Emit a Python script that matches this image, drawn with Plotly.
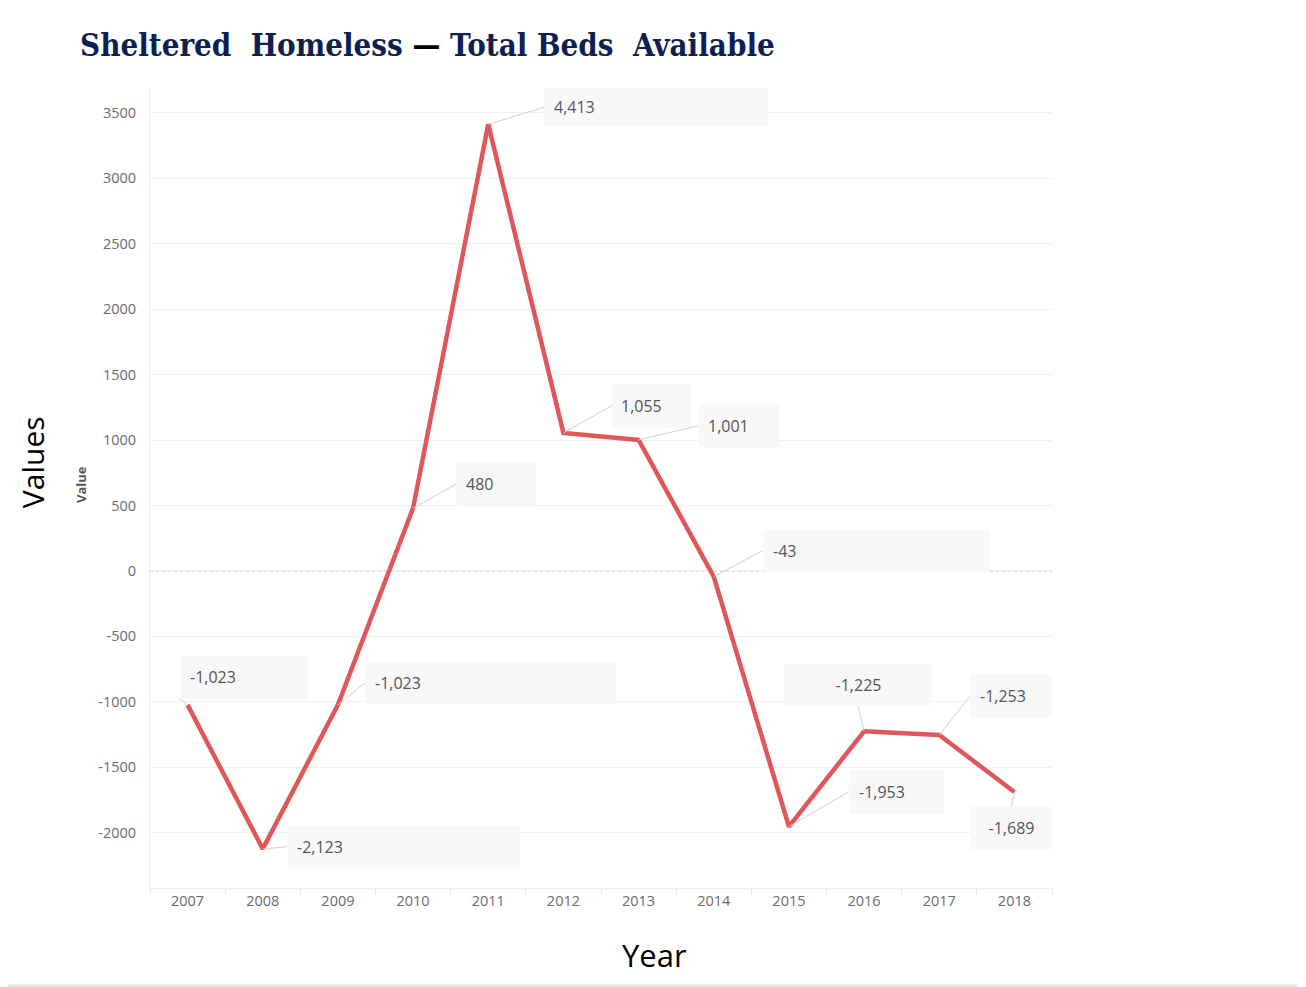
import plotly.graph_objects as go

years = [2007, 2008, 2009, 2010, 2011, 2012, 2013, 2014, 2015, 2016, 2017, 2018]
values = [-1023, -2123, -1023, 480, 3413, 1055, 1001, -43, -1953, -1225, -1253, -1689]
labels = ["-1,023", "-2,123", "-1,023", "480", "4,413", "1,055", "1,001", "-43",
          "-1,953", "-1,225", "-1,253", "-1,689"]
ytick_vals = [3500, 3000, 2500, 2000, 1500, 1000, 500, 0, -500, -1000, -1500, -2000]
ytick_text = ["3500", "3000", "2500", "2000", "1500", "1000", "500", "0",
              "-500", "-1000", "-1500", "-2000"]
xtick_text = [str(y) for y in years]

# label box placement: (ax, ay, xanchor, yanchor, box width, box height, align)
label_style = [
    (-8, -6, "left", "bottom", 127, 42, "left"),
    (24, -2, "left", "middle", 231, 41, "left"),
    (27, -22, "left", "middle", 249, 41, "left"),
    (43, -24, "left", "middle", 79, 42, "left"),
    (56, -17, "left", "middle", 223, 38, "left"),
    (48, -27, "left", "middle", 79, 42, "left"),
    (59, -14, "left", "middle", 80, 42, "left"),
    (49, -26, "left", "middle", 225, 42, "left"),
    (60, -35, "left", "middle", 93, 42, "left"),
    (-6, -25, "center", "bottom", 147, 41, "center"),
    (31, -39, "left", "middle", 81, 42, "left"),
    (-3, 14, "center", "top", 81, 42, "center"),
]

W, H = 1306, 987
L, T = 142, 78
PW, PH = 902, 802

fig = go.Figure()
fig.add_trace(go.Scatter(
    x=years, y=values, mode="lines",
    line=dict(color="#e15759", width=4.5),
    hoverinfo="skip", showlegend=False,
))

annotations = []
pad = 9
for yr, v, txt, st in zip(years, values, labels, label_style):
    ax, ay, xa, ya, bw, bh, al = st
    annotations.append(dict(
        x=yr, y=v, xref="x", yref="y", text=txt,
        showarrow=True, arrowhead=0, arrowwidth=1, arrowcolor="#d0d0d0",
        ax=ax, ay=ay, xanchor=xa, yanchor=ya,
        width=bw - 2 * pad, height=bh - 2 * pad, borderpad=pad, align=al,
        bgcolor="#f8f8f8", font=dict(family="Open Sans", size=16, color="#555555"),
    ))

# title
annotations.append(dict(
    x=0, y=1, xref="paper", yref="paper", xshift=-72, yshift=41,
    xanchor="left", yanchor="middle", showarrow=False,
    text=("<b><span style='color:#0f1f52'>Sheltered  Homeless</span> "
          "<span style='color:#000000'>—</span> "
          "<span style='color:#0f1f52'>Total Beds  Available</span></b>"),
    font=dict(family="DejaVu Serif Condensed", size=31, color="#0f1f52"),
))
# small inner axis title
annotations.append(dict(
    x=0, y=0.5, xref="paper", yref="paper", xshift=-69, yshift=2,
    xanchor="center", yanchor="middle", showarrow=False, textangle=-90,
    text="<b>Value</b>", font=dict(family="Open Sans", size=13, color="#555555"),
))
# outer axis titles
annotations.append(dict(
    x=0, y=0.531, xref="paper", yref="paper", xshift=-118,
    xanchor="center", yanchor="middle", showarrow=False, textangle=-90,
    text="Values", font=dict(family="Open Sans", size=30, color="#000000"),
))
annotations.append(dict(
    x=0.5588, y=0, xref="paper", yref="paper", yshift=-67,
    xanchor="center", yanchor="middle", showarrow=False,
    text="Year", font=dict(family="Open Sans", size=31, color="#000000"),
))

shapes = [
    # dotted zero reference line
    dict(type="line", xref="paper", yref="y", x0=0, x1=1, y0=0, y1=0,
         line=dict(color="#b0b0b0", width=1, dash="dot"), layer="below"),
    # slide frame line at the bottom
    dict(type="line", xref="paper", yref="paper",
         x0=-150 / PW, x1=(W - 150) / PW, y0=-97.5 / PH, y1=-97.5 / PH,
         line=dict(color="#e6e0dc", width=2)),
]

fig.update_layout(
    width=W, height=H,
    margin=dict(l=L, r=W - L - PW, t=T, b=H - T - PH, autoexpand=False),
    paper_bgcolor="white", plot_bgcolor="white",
    annotations=annotations, shapes=shapes,
    xaxis=dict(
        range=[2006.5, 2018.5], tickvals=years, ticktext=xtick_text,
        showgrid=False, zeroline=False, ticks="",
        showline=True, linecolor="#eeeeee", linewidth=1,
        tickfont=dict(family="Open Sans", size=14.5, color="#6b6b6b"),
        minor=dict(tick0=2006.5, dtick=1, ticks="outside", ticklen=6,
                   tickcolor="#e8e8e8", showgrid=False),
    ),
    yaxis=dict(
        range=[-2422, 3705], tickvals=ytick_vals, ticktext=ytick_text,
        showgrid=True, gridcolor="#f0f0f0", gridwidth=1,
        zeroline=False,
        showline=True, linecolor="#eeeeee", linewidth=1,
        ticks="", ticklabelstandoff=10,
        tickfont=dict(family="Open Sans", size=14.5, color="#6b6b6b"),
    ),
)

fig.write_html("out.html")
